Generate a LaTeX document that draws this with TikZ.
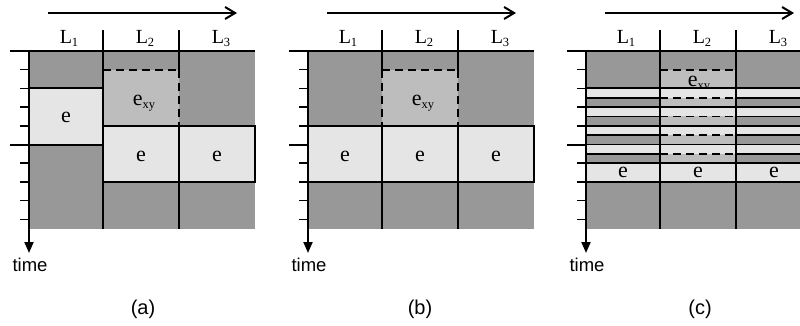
\documentclass[tikz,border=0pt]{standalone}
\usepackage{fontspec}
\setmainfont{Liberation Serif}
\setsansfont{Liberation Sans}
\usetikzlibrary{arrows.meta}
\definecolor{cellDark}{HTML}{989898}
\definecolor{cellLight}{HTML}{E5E5E5}
\definecolor{cellMid}{HTML}{BDBDBD}
% small lowered index after a letter
\newcommand\idx[1]{\raisebox{-2.5pt}{\fontsize{12.5}{12.5}\selectfont #1}}
\tikzset{
  heavyline/.style={line width=2pt},
  fineline/.style={line width=1.6pt},
  dsh/.style={dash pattern=on 8pt off 5pt},
  lab/.style={font=\fontsize{20}{20}\selectfont, anchor=base, inner sep=0pt},
  cell/.style={font=\fontsize{22}{22}\selectfont, anchor=base, inner sep=0pt},
  captext/.style={font=\sffamily\fontsize{18.5}{18.5}\selectfont, anchor=base, inner sep=0pt},
  panelbg/.pic={\fill[cellDark] (0,51) rectangle (226,229);},
  panelaxes/.pic={
    \draw[heavyline,-{Straight Barb[length=10pt,width=12pt]}] (19,13) -- (208,13);
    \node[lab] (-l1) at (40,44) {L\idx{1}};
    \node[lab] (-l2) at (116,44) {L\idx{2}};
    \node[lab] (-l3) at (192,44) {L\idx{3}};
    \draw[heavyline] (-19,51) -- (226,51);
    \draw[heavyline] (-19,144.5) -- (0,144.5);
    \foreach \k in {1,2,3,4,6,7,8,9}
      \draw[fineline] (-9,51+18.7*\k) -- (0,51+18.7*\k);
    \draw[heavyline,-{Triangle[length=11pt,width=9pt]}] (0,51) -- (0,253);
    \node[captext] (-time) at (1,271) {time};
  }
}
\begin{document}
\begin{tikzpicture}[x=1pt,y=-1pt]
\useasboundingbox (0,0) rectangle (800,326);

% ---------- panel (a) ----------
\begin{scope}[shift={(29,0)}]
  \pic {panelbg};
  \fill[cellLight] (0,88.4) rectangle (74,144.5);
  \fill[cellMid] (74,69.7) rectangle (149.5,125.8);
  \fill[cellLight] (74,125.8) rectangle (226,181.9);
  \draw[heavyline] (0,88.4) rectangle (74,144.5);
  \draw[heavyline] (74,125.8) rectangle (226,181.9);
  \draw[heavyline,dsh] (74,69.7) -- (149.5,69.7);
  \draw[heavyline] (74,30) -- (74,229);
  \draw[heavyline] (149.5,30) -- (149.5,69.7);
  \draw[heavyline,dsh] (149.5,69.7) -- (149.5,125.8);
  \draw[heavyline] (149.5,125.8) -- (149.5,229);
  \node[cell] (ae1) at (37,123) {e};
  \node[cell] (aexy) at (115,106) {e\idx{xy}};
  \node[cell] (ae2) at (112,161) {e};
  \node[cell] (ae3) at (188,161) {e};
  \pic (pa) {panelaxes};
  \node[captext] (capa) at (114,314) {\fontsize{20}{20}\selectfont(a)};
\end{scope}

% ---------- panel (b) ----------
\begin{scope}[shift={(308,0)}]
  \pic {panelbg};
  \fill[cellMid] (74,69.7) rectangle (149.5,125.8);
  \fill[cellLight] (0,125.8) rectangle (225.5,181.9);
  \draw[heavyline] (0,125.8) rectangle (225.5,181.9);
  \draw[heavyline,dsh] (74,69.7) -- (149.5,69.7);
  \foreach \xd in {74,149.5} {
    \draw[heavyline] (\xd,30) -- (\xd,69.7);
    \draw[heavyline,dsh] (\xd,69.7) -- (\xd,125.8);
    \draw[heavyline] (\xd,125.8) -- (\xd,229);
  }
  \node[cell] (bexy) at (115,106) {e\idx{xy}};
  \node[cell] (be1) at (37,161) {e};
  \node[cell] (be2) at (112,161) {e};
  \node[cell] (be3) at (188,161) {e};
  \pic (pb) {panelaxes};
  \node[captext] (capb) at (112,314) {\fontsize{20}{20}\selectfont(b)};
\end{scope}

% ---------- panel (c) ----------
\begin{scope}[shift={(586,0)}]
  \pic {panelbg};
  \fill[cellMid] (74,69.7) rectangle (149.5,88.4);
  \node[cell] (cexy) at (113,87) {e\idx{xy}};
  % alternating thin slices
  \foreach \k [evaluate=\k as \ya using 88.4+9.35*\k,
               evaluate=\k as \yb using 88.4+9.35*(\k+1),
               evaluate=\k as \yc using 88.4+9.35*(\k+2)] in {0,2,4,6} {
    \fill[cellLight] (0,\ya) rectangle (226,\yb);
    \fill[cellDark] (0,\yb) rectangle (74,\yc);
    \fill[cellMid] (74,\yb) rectangle (149.5,\yc);
    \fill[cellDark] (149.5,\yb) rectangle (226,\yc);
    \draw[fineline] (0,\ya) -- (226,\ya);
    \draw[fineline] (0,\yb) -- (74,\yb);
    \draw[fineline,dsh] (74,\yb) -- (149.5,\yb);
    \draw[fineline] (149.5,\yb) -- (226,\yb);
  }
  \fill[cellLight] (0,163.2) rectangle (226,181.9);
  \draw[fineline] (0,163.2) -- (226,163.2);
  \draw[heavyline] (0,181.9) -- (226,181.9);
  \draw[heavyline,dsh] (74,69.7) -- (149.5,69.7);
  \draw[heavyline] (0,88.4) -- (226,88.4);
  \draw[heavyline] (74,30) -- (74,229);
  \draw[heavyline] (149.5,30) -- (149.5,229);
  \node[cell] (ce1) at (37,177) {e};
  \node[cell] (ce2) at (112,177) {e};
  \node[cell] (ce3) at (188,177) {e};
  \pic (pc) {panelaxes};
  \node[captext] (capc) at (114,314) {\fontsize{20}{20}\selectfont(c)};
\end{scope}
\end{tikzpicture}
\end{document}
